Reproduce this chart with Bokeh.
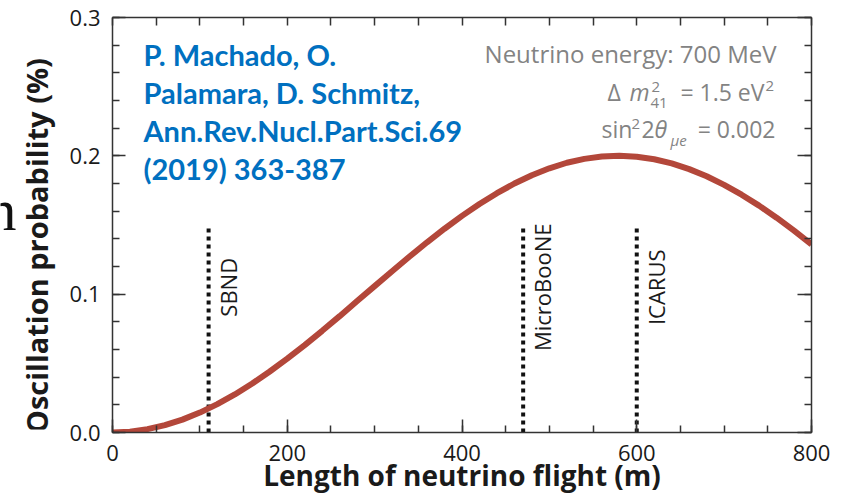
import math
from bokeh.plotting import figure
from bokeh.layouts import row
from bokeh.models import (Range1d, LinearAxis, SingleIntervalTicker, FixedTicker,
                          PrintfTickFormatter, CustomJSTickFormatter,
                          Label, ColumnDataSource)
from bokeh.core.properties import value
from bokeh.embed import file_html
from bokeh.resources import INLINE

# ---------------- data ----------------
length_m = [0, 20, 40, 60, 80, 100, 120, 140, 160, 180, 200, 220, 240, 260, 280,
            300, 320, 340, 360, 380, 400, 420, 440, 460, 480, 500, 520, 540, 560,
            580, 600, 620, 640, 660, 680, 700, 720, 740, 760, 780, 800]
prob_pct = [0.0000, 0.0006, 0.0024, 0.0053, 0.0093, 0.0144, 0.0205, 0.0275,
            0.0354, 0.0441, 0.0534, 0.0632, 0.0735, 0.0841, 0.0950, 0.1058,
            0.1166, 0.1272, 0.1375, 0.1473, 0.1566, 0.1652, 0.1730, 0.1800,
            0.1860, 0.1910, 0.1950, 0.1978, 0.1995, 0.2000, 0.1993, 0.1975,
            0.1945, 0.1904, 0.1852, 0.1790, 0.1719, 0.1640, 0.1553, 0.1459,
            0.1360]
detectors = ["SBND", "MicroBooNE", "ICARUS"]
detector_pos = [110, 470, 600]
detector_top = [0.15, 0.15, 0.15]
detector_label_y = [0.105, 0.105, 0.105]
y_ticks = [0.0, 0.1, 0.2, 0.3]
y_title = "Oscillation probability (%)"
x_title = "Length of neutrino flight (m)"
credit_lines = ["P. Machado, O.", "Palamara, D. Schmitz,",
                "Ann.Rev.Nucl.Part.Sci.69", "(2019) 363-387"]

# ---------------- layout helpers (page pixels -> data) ----------------
STRIP = 60                      # left strip holding the y title
FX0, FW, FY0, FH = 112, 699, 432, 415
FTOP = FY0 - FH
XMAX, YMAX = 800, 0.3
TOTAL_W, TOTAL_H = 846, 493

def dx(px):
    return (px - FX0) * XMAX / FW

def dy(py):
    return (FY0 - py) * YMAX / FH

p = figure(frame_width=FW, frame_height=FH,
           min_border_left=FX0 - STRIP, min_border_right=TOTAL_W - FX0 - FW,
           min_border_top=FTOP, min_border_bottom=TOTAL_H - FY0,
           x_range=Range1d(0, XMAX), y_range=Range1d(0, YMAX),
           output_backend="svg", toolbar_location=None, title=None,
           background_fill_color="white", border_fill_color="white")
p.outline_line_color = None
p.grid.visible = False

AX = "#333333"
INK = "#1a1a1a"
y_minor = [round(0.02 * i, 2) for i in range(16)]

# bottom axis
xa = p.xaxis[0]
xa.ticker = SingleIntervalTicker(interval=200, num_minor_ticks=4)
xa.axis_label = x_title
xa.axis_label_text_font = "Open Sans"
xa.axis_label_text_font_style = "bold"
xa.axis_label_text_font_size = "28px"
xa.axis_label_text_color = INK
xa.axis_label_standoff = -8
xa.major_label_text_font = "Open Sans"
xa.major_label_text_font_size = "22px"
xa.major_label_text_color = INK
xa.major_label_standoff = 12

# left axis
ya = p.yaxis[0]
ya.ticker = FixedTicker(ticks=y_ticks, minor_ticks=y_minor)
ya.formatter = PrintfTickFormatter(format="%.1f")
ya.major_label_text_font = "Open Sans"
ya.major_label_text_font_size = "22px"
ya.major_label_text_color = INK
ya.major_label_standoff = 12

for a in (xa, ya):
    a.axis_line_color = AX
    a.axis_line_width = 1.5
    a.major_tick_line_color = AX
    a.minor_tick_line_color = AX
    a.major_tick_line_width = 1.5
    a.minor_tick_line_width = 1.5
    a.major_tick_in = 13
    a.major_tick_out = 0
    a.minor_tick_in = 7
    a.minor_tick_out = 0

blank = CustomJSTickFormatter(code="return ''")
top = LinearAxis(ticker=SingleIntervalTicker(interval=50, num_minor_ticks=0),
                 formatter=blank, major_label_text_font_size="6px",
                 major_label_standoff=0,
                 axis_line_color=AX, axis_line_width=1.5,
                 major_tick_line_color=AX, major_tick_line_width=1.5,
                 major_tick_in=8, major_tick_out=0,
                 minor_tick_in=0, minor_tick_out=0)
right = LinearAxis(ticker=FixedTicker(ticks=y_ticks, minor_ticks=y_minor),
                   formatter=blank, major_label_text_font_size="6px",
                   major_label_standoff=0,
                   axis_line_color=AX, axis_line_width=1.5,
                   major_tick_line_color=AX, major_tick_line_width=1.5,
                   minor_tick_line_color=AX, minor_tick_line_width=1.5,
                   major_tick_in=14, major_tick_out=0,
                   minor_tick_in=7, minor_tick_out=0)
p.add_layout(top, "above")
p.add_layout(right, "right")

# detector dotted lines
det_src = ColumnDataSource(dict(x=detector_pos, top=detector_top,
                                base=[0, 0, 0], ly=detector_label_y,
                                name=detectors))
p.segment(x0="x", y0="base", x1="x", y1="top", source=det_src,
          line_color="#111111", line_width=4, line_dash="4 4", line_cap="butt")
p.text(x="x", y="ly", text="name", source=det_src, angle=math.pi / 2,
       text_align="center", text_baseline="top", x_offset=4,
       text_font=value("Open Sans"), text_font_size="22px", text_color=INK)

# oscillation curve
p.line(length_m, prob_pct, line_color="#B3473A", line_width=6)

# text labels placed by their baseline in page pixels
def plabel(px, py, txt, size, color, font="Open Sans", style="normal",
           align="left"):
    p.add_layout(Label(x=dx(px), y=dy(py - 0.4 * size), text=txt,
                       text_align=align, text_baseline="alphabetic",
                       text_font=font, text_font_style=style,
                       text_font_size=f"{size}px", text_color=color))

# blue credit text
BLUE = "#0070C0"
for i, line in enumerate(credit_lines):
    plabel(143, 66 + 38 * i, line, 29, BLUE, font="Lato", style="bold")

# gray parameter text
GRAY = "#838383"
plabel(776, 63, "Neutrino energy: 700 MeV", 24, GRAY, align="right")
# line 2
plabel(607, 101, "\u0394", 23, GRAY)
plabel(629, 101, "m", 23, GRAY, style="italic")
plabel(651, 92, "2", 15, GRAY)
plabel(650, 108, "41", 15, GRAY)
plabel(764, 101, "= 1.5 eV", 23, GRAY, align="right")
plabel(765, 91, "2", 15, GRAY)
# line 3
plabel(601, 138, "sin", 23, GRAY)
plabel(631, 129, "2", 15, GRAY)
plabel(641, 138, "2", 23, GRAY)
plabel(654, 138, "\u03b8", 23, GRAY, style="italic")
plabel(670, 145, "\u03bce", 15, GRAY, style="italic")
plabel(775, 138, "= 0.002", 23, GRAY, align="right")

# left strip: y-axis title and the stray serif glyph of the source image
pn = figure(width=STRIP, height=TOTAL_H, x_range=Range1d(0, STRIP),
            y_range=Range1d(TOTAL_H, 0), output_backend="svg",
            toolbar_location=None, title=None, x_axis_type=None,
            y_axis_type=None, min_border=0,
            background_fill_color="white", border_fill_color="white")
pn.outline_line_color = None
pn.text(x=[16], y=[230], text=["n"], text_align="right",
        text_baseline="alphabetic", text_font=value("Liberation Serif"),
        text_font_size="60px", text_color="#111111")
pn.text(x=[36], y=[273], text=[y_title], angle=math.pi / 2,
        text_align="center", text_baseline="middle",
        text_font=value("Open Sans"), text_font_style="bold",
        text_font_size="29px", text_color=INK)

layout = row(pn, p, spacing=0)
open("out.html", "w").write(file_html(layout, INLINE))
